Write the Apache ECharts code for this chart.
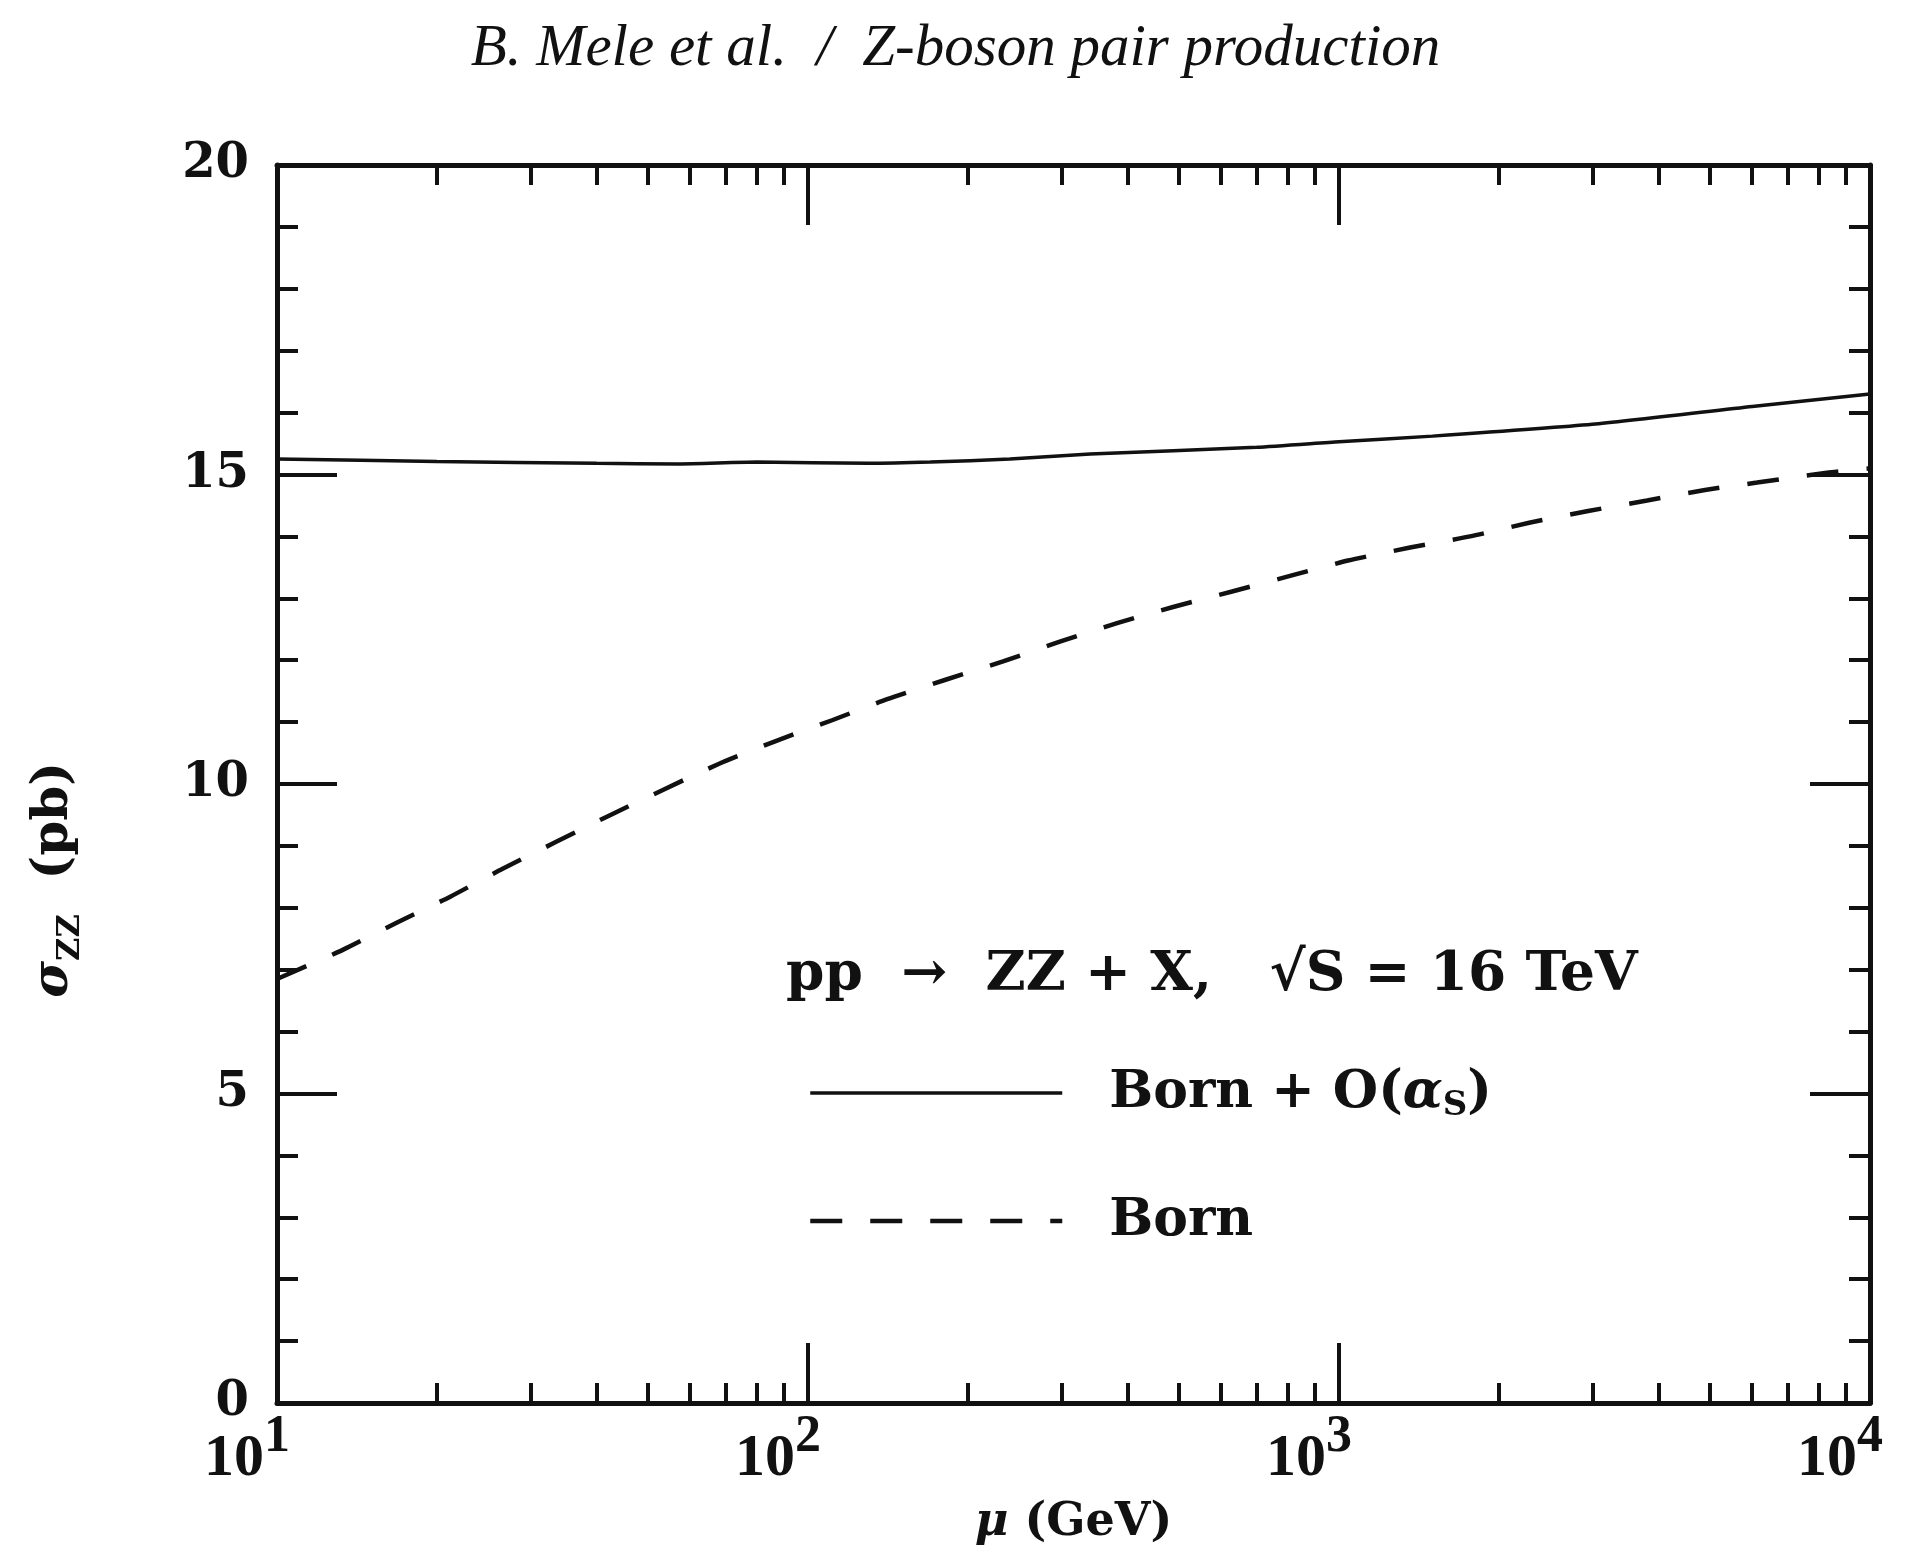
<!DOCTYPE html>
<html>
<head>
<meta charset="utf-8">
<title>Z-boson pair production</title>
<script src="https://cdn.jsdelivr.net/npm/echarts@6/dist/echarts.min.js"></script>
<style>
  html, body { margin: 0; padding: 0; background: #fff; }
  #chart { width: 1911px; height: 1562px; }
</style>
</head>
<body>
<div id="chart"></div>
<script>
// values: mu in GeV, sigma_ZZ in pb
const muBornAs = [10, 20, 40, 57, 80, 130, 170, 240, 340, 700, 1000, 1500, 3000, 6000, 10000]
const sigmaBornAs = [15.25, 15.21, 15.18, 15.17, 15.2, 15.18, 15.2, 15.25, 15.33, 15.44, 15.53, 15.62, 15.81, 16.1, 16.3]

const muBorn = [10, 13.3, 16.8, 21.2, 26.6, 42, 67.7, 86.7, 111, 141, 181, 233, 298, 382, 487, 629, 815, 1040, 1361, 1766, 2281, 2946, 3804, 4889, 6128, 8298, 10000]
const sigmaBorn = [6.85, 7.32, 7.76, 8.18, 8.63, 9.48, 10.32, 10.69, 11.03, 11.37, 11.68, 11.98, 12.3, 12.6, 12.86, 13.11, 13.37, 13.61, 13.82, 14.0, 14.22, 14.41, 14.58, 14.75, 14.87, 15.03, 15.1]

const xMinorTicks = [20, 30, 40, 50, 60, 70, 80, 90, 200, 300, 400, 500, 600, 700, 800, 900, 2000, 3000, 4000, 5000, 6000, 7000, 8000, 9000]
const yTickStep = 5

const ink = '#111'
const serif = '"Liberation Serif", serif'
const slab = '"DejaVu Serif", serif'

const chart = echarts.init(document.getElementById('chart'))

const zip = (xs, ys) => xs.map((x, i) => [x, ys[i]])
const minorLog = xMinorTicks.map(v => Math.log10(v))

function logAxis(position, showLabel) {
  return {
    type: 'log',
    logBase: 10,
    min: 10,
    max: 10000,
    position: position,
    axisLine: { show: true, onZero: false, lineStyle: { color: ink, width: 5 } },
    axisTick: { show: true, inside: true, length: 60, lineStyle: { color: ink, width: 4 } },
    splitLine: { show: false },
    axisLabel: {
      show: showLabel,
      showMinLabel: true,
      showMaxLabel: true,
      margin: 9,
      padding: [0, 60, 0, 0],
      formatter: v => '{b|10}{s|' + Math.round(Math.log10(v)) + '}',
      rich: {
        b: { fontFamily: serif, fontWeight: 'bold', fontSize: 60, color: ink, lineHeight: 77, verticalAlign: 'bottom' },
        s: { fontFamily: serif, fontWeight: 'bold', fontSize: 52, color: ink, lineHeight: 40, verticalAlign: 'top' }
      }
    },
    name: showLabel ? '{m|μ}{n| (GeV)}' : '',
    nameLocation: 'middle',
    nameGap: 97,
    nameMoveOverlap: false,
    nameTextStyle: {
      rich: {
        m: { fontFamily: slab, fontWeight: 'bold', fontStyle: 'italic', fontSize: 46, color: ink },
        n: { fontFamily: slab, fontWeight: 'bold', fontSize: 46, color: ink }
      }
    }
  }
}

// minor decade ticks, on a plain axis in log10 units spanning the same width
function minorAxis(position) {
  return {
    type: 'value',
    min: 1,
    max: 4,
    position: position,
    axisLine: { show: false, onZero: false },
    axisLabel: { show: false },
    splitLine: { show: false },
    axisTick: { show: true, inside: true, length: 20, customValues: minorLog, lineStyle: { color: ink, width: 4 } }
  }
}

function valueAxis(position, showLabel) {
  return {
    type: 'value',
    min: 0,
    max: 20,
    interval: yTickStep,
    position: position,
    axisLine: { show: true, onZero: false, lineStyle: { color: ink, width: 5 } },
    axisTick: { show: true, inside: true, length: 60, lineStyle: { color: ink, width: 4 } },
    minorTick: { show: true, splitNumber: 5, length: 21, lineStyle: { color: ink, width: 4 } },
    splitLine: { show: false },
    minorSplitLine: { show: false },
    axisLabel: {
      show: showLabel,
      margin: 28,
      fontFamily: slab,
      fontWeight: 'bold',
      fontSize: 48,
      color: ink
    },
    name: showLabel ? '{s|σ}{z|ZZ}{n|  (pb)}' : '',
    nameLocation: 'middle',
    nameGap: 190,
    nameMoveOverlap: false,
    nameTextStyle: {
      padding: [0, 192, 0, 0],
      rich: {
        s: { fontFamily: slab, fontWeight: 'bold', fontStyle: 'italic', fontSize: 50, color: ink, lineHeight: 58, verticalAlign: 'top' },
        z: { fontFamily: slab, fontWeight: 'bold', fontSize: 32, color: ink, lineHeight: 40, verticalAlign: 'bottom' },
        n: { fontFamily: slab, fontWeight: 'bold', fontSize: 50, color: ink, lineHeight: 58, verticalAlign: 'top' }
      }
    }
  }
}

const option = {
  animation: false,
  backgroundColor: '#fff',
  title: {
    text: 'B. Mele et al.  /  Z-boson pair production',
    left: 'center',
    top: 15,
    textStyle: { fontFamily: serif, fontStyle: 'italic', fontWeight: 'normal', fontSize: 59, color: ink }
  },
  grid: { left: 277, right: 41, top: 165, bottom: 159, containLabel: false, outerBoundsMode: 'none' },
  xAxis: [logAxis('bottom', true), logAxis('top', false), minorAxis('bottom'), minorAxis('top')],
  yAxis: [valueAxis('left', true), valueAxis('right', false)],
  legend: {
    orient: 'vertical',
    left: 808,
    top: 1067,
    padding: 0,
    itemWidth: 252,
    itemHeight: 14,
    itemGap: 72,
    selectedMode: false,
    itemStyle: { opacity: 0 },
    data: [
      { name: 'Born + O(αS)', lineStyle: { width: 3.5 } },
      { name: 'Born', lineStyle: { width: 4.5 } }
    ],
    formatter: name => name === 'Born' ? '{t|Born}' : '{t|Born + O(}{a|α}{u|S}{t|)}',
    textStyle: {
      padding: [0, 0, 0, 42],
      rich: {
        t: { fontFamily: slab, fontWeight: 'bold', fontSize: 52, color: ink, lineHeight: 60 },
        a: { fontFamily: slab, fontWeight: 'bold', fontStyle: 'italic', fontSize: 52, color: ink, lineHeight: 60 },
        u: { fontFamily: slab, fontWeight: 'bold', fontSize: 34, color: ink, lineHeight: 36, verticalAlign: 'bottom' }
      }
    }
  },
  graphic: [{
    type: 'text',
    left: 786,
    top: 948,
    style: {
      text: 'pp  →  ZZ + X,   √S = 16 TeV',
      font: 'bold 55px "DejaVu Serif", serif',
      fill: ink
    }
  }],
  series: [
    {
      name: 'Born + O(αS)',
      type: 'line',
      xAxisIndex: 0,
      yAxisIndex: 0,
      symbol: 'none',
      smooth: 0.2,
      data: zip(muBornAs, sigmaBornAs),
      lineStyle: { color: ink, width: 3.5 }
    },
    {
      name: 'Born',
      type: 'line',
      xAxisIndex: 0,
      yAxisIndex: 0,
      symbol: 'none',
      smooth: 0.2,
      data: zip(muBorn, sigmaBorn),
      lineStyle: { color: ink, width: 4.5, type: [32, 28] }
    }
  ]
}

chart.setOption(option)
</script>
</body>
</html>
